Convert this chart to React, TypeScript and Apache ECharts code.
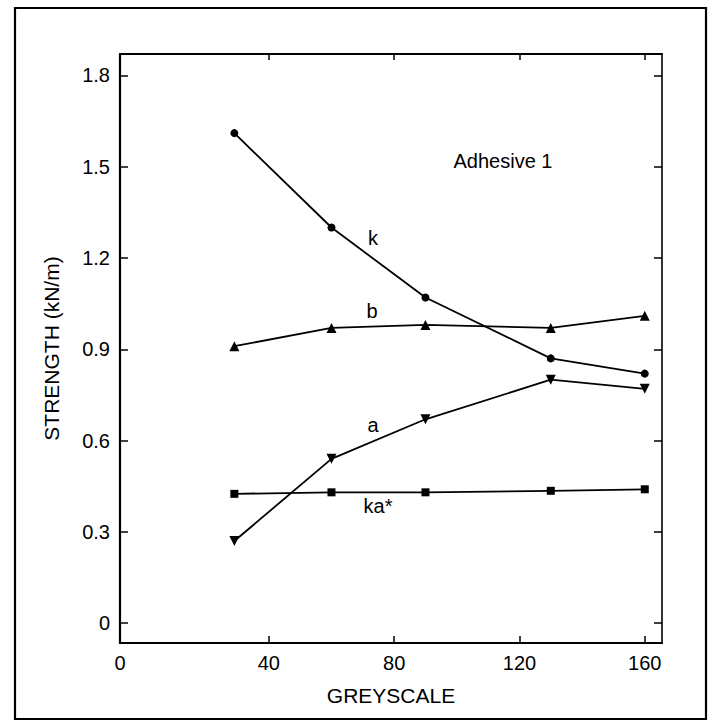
import React, { useEffect, useRef } from "react";
import * as echarts from "echarts";

// Greyscale settings at which each adhesive bond was tested
const greyscale = [29, 60, 90, 130, 160];

// Peel strength (kN/m) for each surface treatment
const kStrength = [1.61, 1.3, 1.07, 0.87, 0.82];
const bStrength = [0.91, 0.97, 0.98, 0.97, 1.01];
const aStrength = [0.27, 0.54, 0.67, 0.8, 0.77];
const kaStrength = [0.425, 0.43, 0.43, 0.435, 0.44];

// Axis ticks
const xTicks = [40, 80, 120, 160];
const yTicks = [0, 0.3, 0.6, 0.9, 1.2, 1.5, 1.8];

// Axis extents (the x origin is labelled "0" at the corner)
const X_MIN = -7.5;
const X_MAX = 165.5;
const Y_MIN = -0.065;
const Y_MAX = 1.87;

const FONT = "'Liberation Sans', Arial, Helvetica, sans-serif";

const pairs = (ys: number[]) => greyscale.map((x, i) => [x, ys[i]]);

export default function App() {
  const ref = useRef<HTMLDivElement>(null);

  useEffect(() => {
    if (!ref.current) return;
    const chart = echarts.init(ref.current, undefined, { renderer: "svg" });

    const lineSeries = (
      name: string,
      ys: number[],
      symbol: string,
      size: number,
      rotate = 0
    ) => ({
      name,
      type: "line" as const,
      data: pairs(ys),
      symbol,
      symbolSize: size,
      symbolRotate: rotate,
      showSymbol: true,
      lineStyle: { color: "#000", width: 1.8 },
      itemStyle: { color: "#000" },
      emphasis: { disabled: true },
      z: 3,
    });

    const tickStyle = { color: "#000", width: 1.5 };

    chart.setOption({
      animation: false,
      backgroundColor: "#fff",
      grid: { left: 120, right: 55, top: 54, bottom: 79, containLabel: false },
      xAxis: [
        {
          type: "value",
          min: X_MIN,
          max: X_MAX,
          position: "bottom",
          axisLine: { show: true, onZero: false, lineStyle: { color: "#000", width: 2.2 } },
          axisTick: {
            show: true,
            inside: true,
            length: 7,
            customValues: xTicks,
            lineStyle: tickStyle,
          },
          axisLabel: {
            show: true,
            customValues: [X_MIN, ...xTicks],
            formatter: (v: number) => (v === X_MIN ? "0" : String(v)),
            color: "#000",
            fontSize: 20,
            fontFamily: FONT,
            margin: 10,
          },
          splitLine: { show: false },
          name: "GREYSCALE",
          nameLocation: "middle",
          nameGap: 42,
          nameTextStyle: { color: "#000", fontSize: 21, fontFamily: FONT },
        },
        {
          type: "value",
          min: X_MIN,
          max: X_MAX,
          position: "top",
          axisLine: { show: true, onZero: false, lineStyle: { color: "#000", width: 2 } },
          axisTick: {
            show: true,
            inside: true,
            length: 6,
            customValues: xTicks,
            lineStyle: tickStyle,
          },
          axisLabel: { show: false },
          splitLine: { show: false },
        },
      ],
      yAxis: [
        {
          type: "value",
          min: Y_MIN,
          max: Y_MAX,
          position: "left",
          axisLine: { show: true, onZero: false, lineStyle: { color: "#000", width: 2.2 } },
          axisTick: {
            show: true,
            inside: true,
            length: 8,
            customValues: yTicks,
            lineStyle: tickStyle,
          },
          axisLabel: {
            show: true,
            customValues: yTicks,
            formatter: (v: number) => (v === 0 ? "0" : v.toFixed(1)),
            color: "#000",
            fontSize: 20,
            fontFamily: FONT,
            margin: 10,
          },
          splitLine: { show: false },
          name: "STRENGTH (kN/m)",
          nameLocation: "middle",
          nameRotate: 90,
          nameGap: 58,
          nameTextStyle: { color: "#000", fontSize: 21, fontFamily: FONT },
        },
        {
          type: "value",
          min: Y_MIN,
          max: Y_MAX,
          position: "right",
          axisLine: { show: true, onZero: false, lineStyle: { color: "#000", width: 1.6 } },
          axisTick: {
            show: true,
            inside: true,
            length: 8,
            customValues: yTicks,
            lineStyle: tickStyle,
          },
          axisLabel: { show: false },
          splitLine: { show: false },
        },
      ],
      series: [
        lineSeries("k", kStrength, "circle", 8),
        lineSeries("b", bStrength, "triangle", 10),
        lineSeries("a", aStrength, "triangle", 10, 180),
        lineSeries("ka*", kaStrength, "rect", 8),
      ],
      graphic: [
        {
          type: "rect",
          shape: { x: 15, y: 8, width: 691, height: 711 },
          style: { fill: "none", stroke: "#000", lineWidth: 2.2 },
          silent: true,
        },
        {
          type: "text",
          x: 503,
          y: 161,
          style: {
            text: "Adhesive 1",
            fill: "#000",
            font: `20px ${FONT}`,
            align: "center",
            verticalAlign: "middle",
          },
        },
        {
          type: "text",
          x: 373,
          y: 238,
          style: { text: "k", fill: "#000", font: `20px ${FONT}`, align: "center", verticalAlign: "middle" },
        },
        {
          type: "text",
          x: 372,
          y: 311,
          style: { text: "b", fill: "#000", font: `20px ${FONT}`, align: "center", verticalAlign: "middle" },
        },
        {
          type: "text",
          x: 373,
          y: 425,
          style: { text: "a", fill: "#000", font: `20px ${FONT}`, align: "center", verticalAlign: "middle" },
        },
        {
          type: "text",
          x: 378,
          y: 506,
          style: { text: "ka*", fill: "#000", font: `20px ${FONT}`, align: "center", verticalAlign: "middle" },
        },
      ],
    });

    return () => chart.dispose();
  }, []);

  return (
    <div
      style={{
        position: "fixed",
        left: 0,
        top: 0,
        width: 717,
        height: 722,
        background: "#fff",
      }}
    >
      <div ref={ref} style={{ width: 717, height: 722 }} />
    </div>
  );
}
